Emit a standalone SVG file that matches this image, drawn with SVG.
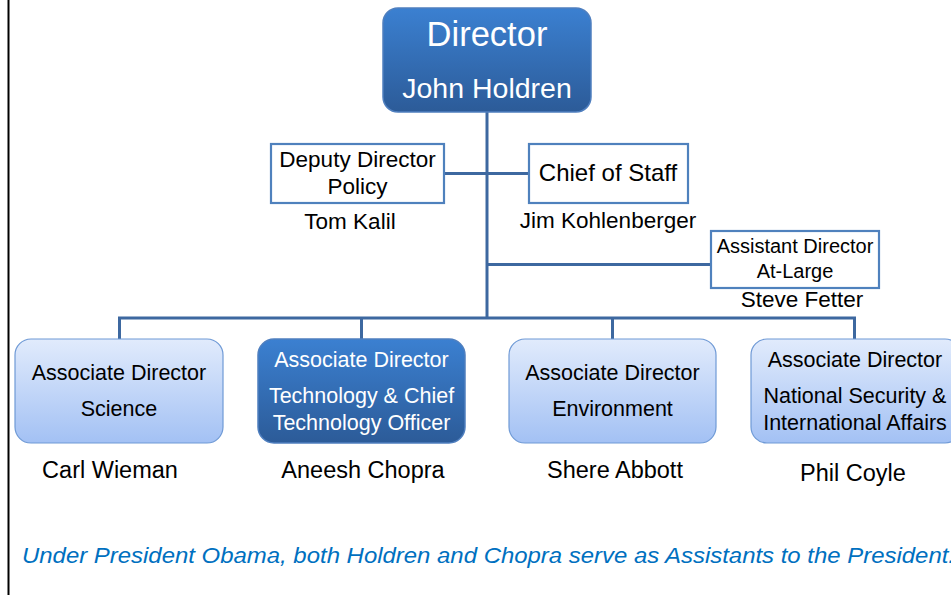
<svg xmlns="http://www.w3.org/2000/svg" width="951" height="595" viewBox="0 0 951 595">
<defs>
<linearGradient id="gDark" x1="0" y1="0" x2="0" y2="1">
<stop offset="0" stop-color="#3b80d1"/>
<stop offset="1" stop-color="#2c5b98"/>
</linearGradient>
<linearGradient id="gLight" x1="0" y1="0" x2="0" y2="1">
<stop offset="0" stop-color="#e1ebfc"/>
<stop offset="1" stop-color="#a3c1f4"/>
</linearGradient>
<style>
text{font-family:"Liberation Sans",Arial,sans-serif;text-anchor:middle;fill:#000}
.w{fill:#fff}
.dark{fill:url(#gDark);stroke:#4f7fbf;stroke-width:1.5}
.light{fill:url(#gLight);stroke:#6f9ad6;stroke-width:1.2}
.plain{fill:#fff;stroke:#4f81bd;stroke-width:2.2}
.con{stroke:#3d68a0;stroke-width:3;fill:none}
</style>
</defs>
<rect x="0" y="0" width="951" height="595" fill="#fff"/>
<line x1="8.5" y1="0" x2="8.5" y2="595" stroke="#000" stroke-width="2"/>

<g id="connectors">
<line class="con" x1="487" y1="112" x2="487" y2="319"/>
<line class="con" x1="444" y1="173.5" x2="529" y2="173.5"/>
<line class="con" x1="487" y1="264.5" x2="711" y2="264.5"/>
<polyline class="con" points="119.5,339 119.5,318 854.5,318 854.5,339"/>
<line class="con" x1="361.5" y1="318" x2="361.5" y2="339"/>
<line class="con" x1="612.5" y1="318" x2="612.5" y2="339"/>
</g>

<g id="director">
<rect class="dark" x="383" y="8" width="208" height="104" rx="15"/>
<text class="w" x="487" y="46" font-size="34.5">Director</text>
<text class="w" x="487" y="98" font-size="28.5">John Holdren</text>
</g>

<g id="deputy">
<rect class="plain" x="271" y="144" width="173" height="59"/>
<text x="357.5" y="167" font-size="22.5">Deputy Director</text>
<text x="357.5" y="194" font-size="22.5">Policy</text>
<text x="350" y="229" font-size="22.5">Tom Kalil</text>
</g>

<g id="chief">
<rect class="plain" x="529" y="144" width="159" height="59"/>
<text x="608" y="181" font-size="24">Chief of Staff</text>
<text x="608" y="228" font-size="22.5">Jim Kohlenberger</text>
</g>

<g id="assistant">
<rect class="plain" x="711" y="231" width="168" height="57"/>
<text x="795" y="253" font-size="20">Assistant Director</text>
<text x="795" y="278" font-size="20">At-Large</text>
<text x="802" y="307" font-size="22.5">Steve Fetter</text>
</g>

<g id="science">
<rect class="light" x="15" y="339" width="208" height="104" rx="16"/>
<text x="119" y="380" font-size="21.5">Associate Director</text>
<text x="119" y="416" font-size="21.5">Science</text>
<text x="110" y="478" font-size="23.5">Carl Wieman</text>
</g>

<g id="technology">
<rect class="dark" x="258" y="339" width="207" height="104" rx="16"/>
<text class="w" x="361.5" y="367" font-size="21.5">Associate Director</text>
<text class="w" x="361.5" y="403" font-size="21.5">Technology &amp; Chief</text>
<text class="w" x="361.5" y="430" font-size="21.5">Technology Officer</text>
<text x="363" y="478" font-size="23.5">Aneesh Chopra</text>
</g>

<g id="environment">
<rect class="light" x="509" y="339" width="207" height="104" rx="16"/>
<text x="612.5" y="380" font-size="21.5">Associate Director</text>
<text x="612.5" y="416" font-size="21.5">Environment</text>
<text x="615" y="478" font-size="23.5">Shere Abbott</text>
</g>

<g id="security">
<rect class="light" x="751" y="339" width="210" height="104" rx="16"/>
<text x="855" y="367" font-size="21.5">Associate Director</text>
<text x="855" y="403" font-size="21.5">National Security &amp;</text>
<text x="855" y="430" font-size="21.5">International Affairs</text>
<text x="853" y="481" font-size="23.5">Phil Coyle</text>
</g>

<text x="22" y="563" font-size="22" font-style="italic" style="text-anchor:start;fill:#0070c0" textLength="933" lengthAdjust="spacingAndGlyphs">Under President Obama, both Holdren and Chopra serve as Assistants to the President.</text>
</svg>
